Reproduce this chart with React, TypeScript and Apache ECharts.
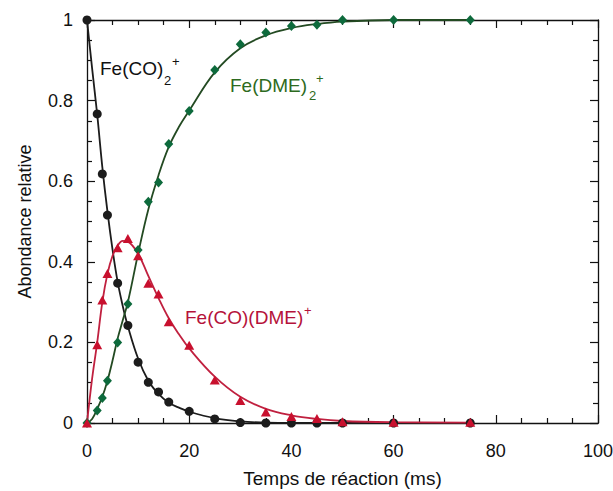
import React, { useEffect, useRef } from "react";
import * as echarts from "echarts";

// Measured points (time in ms)
const times = [0, 2, 3, 4, 6, 8, 10, 12, 14, 16, 20, 25, 30, 35, 40, 45, 50, 60, 75];
const feCO2 = [1, 0.767, 0.618, 0.516, 0.347, 0.242, 0.151, 0.101, 0.077, 0.052, 0.029, 0.01, 0.001, 0, 0, 0, 0, 0, 0];
const feDME2 = [0, 0.031, 0.062, 0.105, 0.2, 0.295, 0.429, 0.549, 0.597, 0.692, 0.774, 0.876, 0.94, 0.969, 0.985, 0.988, 1.0, 1.0, 1.0];
const feCODME = [0, 0.194, 0.305, 0.371, 0.435, 0.458, 0.415, 0.347, 0.32, 0.251, 0.193, 0.107, 0.056, 0.027, 0.016, 0.011, 0.003, 0.002, 0.002];

// Fitted curves
const fitTimes = [0, 1, 2, 3, 4, 5, 6, 7, 8, 10, 12, 14, 16, 18, 20, 25, 30, 35, 40, 45, 50, 60, 75];
const fitFeCO2 = [1, 0.88, 0.765, 0.635, 0.525, 0.43, 0.35, 0.29, 0.24, 0.16, 0.105, 0.072, 0.05, 0.038, 0.028, 0.012, 0.004, 0.001, 0, 0, 0, 0, 0];
const fitFeDME2 = [0, 0.01, 0.035, 0.065, 0.105, 0.155, 0.21, 0.255, 0.3, 0.42, 0.53, 0.615, 0.685, 0.735, 0.775, 0.87, 0.93, 0.962, 0.98, 0.99, 0.996, 1, 1];
const fitFeCODME = [0, 0.11, 0.2, 0.3, 0.37, 0.415, 0.44, 0.452, 0.45, 0.42, 0.365, 0.31, 0.26, 0.22, 0.185, 0.115, 0.065, 0.035, 0.019, 0.01, 0.005, 0.002, 0.001];

const xTitle = "Temps de réaction (ms)";
const yTitle = "Abondance relative";

const FONT = "'Liberation Sans', Arial, Helvetica, sans-serif";
const BLACK = "#1c1c1c";
const GREEN_LINE = "#234a22";
const GREEN_MARK = "#0d6a3c";
const GREEN_TEXT = "#2d6a20";
const RED_LINE = "#c0203f";
const RED_MARK = "#c8102e";
const RED_TEXT = "#b5123a";

const pairs = (xs: number[], ys: number[]) => xs.map((x, i) => [x, ys[i]]);

export default function App() {
  const ref = useRef<HTMLDivElement>(null);
  useEffect(() => {
    document.body.style.margin = "0";
    if (!ref.current) return;
    const chart = echarts.init(ref.current, null, { renderer: "svg" });
    const axisLine = { show: true, onZero: false, lineStyle: { color: "#111", width: 1.3 } };
    const tick = { show: true, inside: true, length: 8, lineStyle: { color: "#111", width: 1.2 } };
    const minor = { show: true, splitNumber: 4, length: 5, lineStyle: { color: "#111", width: 1.2 } };
    const label = { fontSize: 18, fontFamily: FONT, color: "#111" };
    const txt = (text: string, x: number, y: number, size: number, fill: string) => ({
      type: "text",
      x,
      y,
      style: { text, fontSize: size, fontFamily: FONT, fill, verticalAlign: "middle" },
    });
    chart.setOption({
      animation: false,
      backgroundColor: "#fff",
      grid: { left: 87, right: 15, top: 20, bottom: 68, containLabel: false, outerBoundsMode: "none" },
      xAxis: [
        {
          type: "value",
          min: 0,
          max: 100,
          interval: 20,
          position: "bottom",
          name: xTitle,
          nameLocation: "middle",
          nameGap: 46,
          nameTextStyle: { fontSize: 19, fontFamily: FONT, color: "#111" },
          axisLine,
          axisTick: tick,
          minorTick: minor,
          axisLabel: { ...label, margin: 19 },
          splitLine: { show: false },
        },
        {
          type: "value",
          min: 0,
          max: 100,
          interval: 20,
          position: "top",
          axisLine,
          axisTick: tick,
          minorTick: minor,
          axisLabel: { show: false },
          splitLine: { show: false },
        },
      ],
      yAxis: [
        {
          type: "value",
          min: 0,
          max: 1,
          interval: 0.2,
          position: "left",
          name: yTitle,
          nameLocation: "middle",
          nameGap: 53,
          nameTextStyle: { fontSize: 18, fontFamily: FONT, color: "#111" },
          axisLine,
          axisTick: tick,
          minorTick: minor,
          axisLabel: { ...label, margin: 14 },
          splitLine: { show: false },
        },
        {
          type: "value",
          min: 0,
          max: 1,
          interval: 0.2,
          position: "right",
          axisLine,
          axisTick: tick,
          minorTick: minor,
          axisLabel: { show: false },
          splitLine: { show: false },
        },
      ],
      series: [
        {
          type: "line",
          data: pairs(fitTimes, fitFeCO2),
          smooth: 0.4,
          showSymbol: false,
          lineStyle: { color: BLACK, width: 1.8 },
          z: 2,
        },
        {
          type: "line",
          data: pairs(fitTimes, fitFeDME2),
          smooth: 0.4,
          showSymbol: false,
          lineStyle: { color: GREEN_LINE, width: 1.8 },
          z: 2,
        },
        {
          type: "line",
          data: pairs(fitTimes, fitFeCODME),
          smooth: 0.4,
          showSymbol: false,
          lineStyle: { color: RED_LINE, width: 1.8 },
          z: 2,
        },
        {
          type: "scatter",
          data: pairs(times, feCO2),
          symbol: "circle",
          symbolSize: 9,
          itemStyle: { color: BLACK, opacity: 1 },
          z: 4,
        },
        {
          type: "scatter",
          data: pairs(times, feDME2),
          symbol: "diamond",
          symbolSize: [9, 10],
          itemStyle: { color: GREEN_MARK, opacity: 1 },
          z: 4,
        },
        {
          type: "scatter",
          data: pairs(times, feCODME),
          symbol: "triangle",
          symbolSize: [10, 9],
          itemStyle: { color: RED_MARK, opacity: 1 },
          z: 4,
        },
      ],
      graphic: [
        txt("Fe(CO)", 100, 68, 19, "#111"),
        txt("2", 164, 80, 13, "#111"),
        txt("+", 172, 61, 13, "#111"),
        txt("Fe(DME)", 230, 85, 19, GREEN_TEXT),
        txt("2", 309, 95, 13, GREEN_TEXT),
        txt("+", 316, 78, 13, GREEN_TEXT),
        txt("Fe(CO)(DME)", 185, 317, 19, RED_TEXT),
        txt("+", 304, 310, 13, RED_TEXT),
      ],
    });
    return () => chart.dispose();
  }, []);
  return <div ref={ref} style={{ width: 613, height: 491 }} />;
}
